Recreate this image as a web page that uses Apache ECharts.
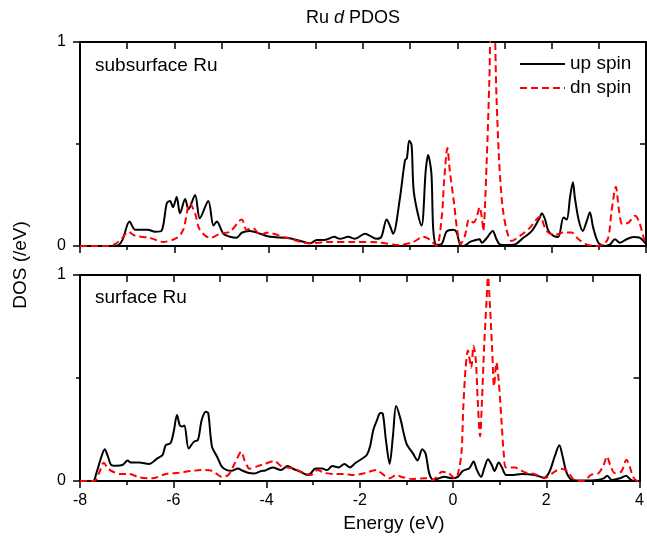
<!DOCTYPE html>
<html><head><meta charset="utf-8">
<script src="https://cdn.jsdelivr.net/npm/echarts@6/dist/echarts.min.js"></script>
<style>html,body{margin:0;padding:0;background:#fff}#c{width:647px;height:537px}</style>
</head><body><div id="c"></div>
<script>
const xTicks = [-8, -6, -4, -2, 0, 2, 4];
const yTicks = [0, 1];
const seriesNames = ['up spin', 'dn spin'];
const panelNames = ['subsurface Ru', 'surface Ru'];

const subUp = [[-8,0],[-7.5,0],[-7.2,0.003],[-7.1,0.03],[-6.95,0.12],[-6.83,0.08],[-6.56,0.08],[-6.41,0.07],[-6.27,0.075],[-6.16,0.21],[-6.09,0.22],[-6.03,0.19],[-5.95,0.24],[-5.88,0.16],[-5.77,0.23],[-5.70,0.18],[-5.56,0.25],[-5.46,0.136],[-5.28,0.22],[-5.17,0.10],[-5.10,0.12],[-4.96,0.06],[-4.82,0.045],[-4.68,0.04],[-4.57,0.065],[-4.40,0.073],[-4.18,0.06],[-3.97,0.045],[-3.62,0.04],[-3.34,0.026],[-3.12,0.013],[-2.98,0.03],[-2.81,0.03],[-2.61,0.045],[-2.49,0.035],[-2.31,0.045],[-2.17,0.035],[-1.96,0.06],[-1.85,0.05],[-1.71,0.035],[-1.61,0.045],[-1.50,0.13],[-1.43,0.10],[-1.36,0.06],[-1.22,0.23],[-1.11,0.42],[-1.07,0.43],[-1.02,0.516],[-0.97,0.495],[-0.92,0.26],[-0.76,0.10],[-0.67,0.37],[-0.62,0.446],[-0.55,0.356],[-0.51,0.08],[-0.44,0.005],[-0.33,0.01],[-0.23,0.07],[-0.09,0.08],[-0.02,0.07],[0.06,0.005],[0.13,0],[0.27,0.02],[0.37,0.028],[0.47,0.033],[0.52,0.016],[0.62,0.038],[0.75,0.074],[0.83,0.033],[0.90,0.008],[1.05,0.005],[1.22,0.008],[1.40,0.04],[1.58,0.074],[1.75,0.14],[1.79,0.16],[1.86,0.13],[1.93,0.074],[2.04,0.05],[2.14,0.044],[2.25,0.14],[2.32,0.13],[2.39,0.24],[2.45,0.313],[2.49,0.24],[2.57,0.13],[2.66,0.074],[2.74,0.12],[2.81,0.165],[2.88,0.09],[2.99,0.016],[3.13,0],[3.24,0.008],[3.34,0.033],[3.45,0.016],[3.59,0.033],[3.73,0.044],[3.87,0.04],[4,0.01]];

const subDn = [[-8,0],[-7.4,0],[-7.25,0.01],[-7.1,0.04],[-6.98,0.07],[-6.83,0.05],[-6.52,0.04],[-6.24,0.02],[-5.95,0.04],[-5.81,0.08],[-5.67,0.21],[-5.56,0.16],[-5.46,0.08],[-5.24,0.04],[-5.03,0.06],[-4.82,0.07],[-4.57,0.13],[-4.47,0.08],[-4.33,0.087],[-4.18,0.055],[-4.04,0.065],[-3.62,0.04],[-3.12,0.013],[-2.77,0.02],[-2.21,0.02],[-1.71,0.018],[-1.22,0.005],[-0.93,0.02],[-0.72,0.045],[-0.58,0.03],[-0.44,0],[-0.33,0.144],[-0.28,0.32],[-0.21,0.48],[-0.16,0.37],[-0.07,0.21],[0,0.074],[0.07,0.01],[0.16,0.05],[0.25,0.13],[0.34,0.115],[0.41,0.14],[0.47,0.19],[0.52,0.14],[0.55,0.074],[0.62,0.40],[0.68,0.82],[0.72,1.15],[0.77,1.15],[0.83,0.73],[0.89,0.40],[0.96,0.19],[1.05,0.074],[1.15,0.025],[1.33,0.05],[1.54,0.09],[1.75,0.143],[1.89,0.074],[2.07,0.054],[2.25,0.066],[2.42,0.066],[2.57,0.033],[2.74,0.008],[2.95,0],[3.1,0.008],[3.2,0.04],[3.27,0.17],[3.36,0.29],[3.43,0.17],[3.5,0.107],[3.63,0.115],[3.77,0.148],[3.86,0.115],[3.96,0.033],[4,0.02]];

const surfUp = [[-8,0],[-7.72,0],[-7.65,0.037],[-7.54,0.118],[-7.47,0.154],[-7.40,0.118],[-7.33,0.078],[-7.22,0.074],[-7.08,0.079],[-6.98,0.099],[-6.91,0.09],[-6.73,0.09],[-6.52,0.083],[-6.34,0.11],[-6.23,0.126],[-6.16,0.175],[-6.06,0.183],[-5.99,0.24],[-5.92,0.32],[-5.86,0.27],[-5.81,0.264],[-5.76,0.27],[-5.67,0.158],[-5.56,0.19],[-5.47,0.2],[-5.39,0.296],[-5.30,0.336],[-5.25,0.33],[-5.17,0.167],[-5.06,0.118],[-4.96,0.07],[-4.85,0.053],[-4.75,0.05],[-4.61,0.061],[-4.54,0.053],[-4.40,0.04],[-4.26,0.037],[-4.11,0.049],[-4.04,0.05],[-3.87,0.066],[-3.69,0.053],[-3.55,0.073],[-3.41,0.057],[-3.27,0.045],[-3.12,0.029],[-3.05,0.037],[-2.95,0.061],[-2.81,0.061],[-2.70,0.053],[-2.59,0.073],[-2.45,0.066],[-2.33,0.083],[-2.21,0.066],[-2.10,0.086],[-1.96,0.107],[-1.85,0.126],[-1.78,0.167],[-1.71,0.248],[-1.63,0.296],[-1.56,0.33],[-1.51,0.328],[-1.44,0.2],[-1.36,0.083],[-1.29,0.215],[-1.22,0.364],[-1.13,0.304],[-1.0,0.183],[-0.86,0.134],[-0.76,0.10],[-0.66,0.154],[-0.59,0.134],[-0.51,0.037],[-0.42,0.005],[-0.30,0.013],[-0.19,0.021],[-0.02,0.013],[0.1,0.02],[0.21,0.049],[0.35,0.062],[0.44,0.095],[0.51,0.054],[0.60,0.02],[0.67,0.062],[0.75,0.106],[0.83,0.078],[0.89,0.049],[0.98,0.09],[1.05,0.065],[1.14,0.029],[1.26,0.029],[1.47,0.034],[1.75,0.029],[1.96,0.016],[2.07,0.046],[2.18,0.119],[2.28,0.173],[2.35,0.119],[2.44,0.038],[2.56,0.005],[2.81,0.002],[3.09,0.005],[3.23,0.013],[3.31,0.026],[3.40,0.005],[3.58,0.013],[3.71,0.026],[3.79,0.01],[3.89,0],[4,0]];

const surfDn = [[-8,0],[-7.69,0],[-7.58,0.045],[-7.49,0.089],[-7.40,0.06],[-7.29,0.045],[-7.15,0.034],[-6.94,0.034],[-6.73,0.018],[-6.45,0.013],[-6.16,0.034],[-5.88,0.04],[-5.60,0.049],[-5.39,0.053],[-5.17,0.05],[-4.96,0.021],[-4.82,0.029],[-4.68,0.086],[-4.54,0.142],[-4.47,0.10],[-4.36,0.06],[-4.22,0.07],[-4.08,0.08],[-3.83,0.097],[-3.69,0.073],[-3.55,0.066],[-3.41,0.061],[-3.19,0.037],[-3.05,0.029],[-2.91,0.053],[-2.77,0.04],[-2.56,0.034],[-2.35,0.034],[-2.14,0.029],[-1.92,0.037],[-1.64,0.053],[-1.53,0.037],[-1.36,0.013],[-1.22,0.029],[-1.08,0.018],[-0.86,0.01],[-0.58,0.013],[-0.44,0.005],[-0.23,0.045],[-0.09,0.037],[0.04,0.013],[0.1,0.03],[0.18,0.135],[0.22,0.356],[0.27,0.55],[0.32,0.633],[0.39,0.55],[0.44,0.657],[0.49,0.584],[0.53,0.388],[0.58,0.217],[0.62,0.388],[0.67,0.666],[0.72,0.88],[0.75,0.99],[0.79,0.86],[0.84,0.633],[0.88,0.46],[0.93,0.576],[0.98,0.486],[1.04,0.29],[1.09,0.127],[1.14,0.065],[1.33,0.065],[1.54,0.042],[1.75,0.033],[1.96,0.013],[2.18,0.046],[2.32,0.059],[2.46,0.046],[2.6,0.005],[2.81,0],[2.95,0.029],[3.12,0.038],[3.23,0.078],[3.30,0.119],[3.37,0.078],[3.47,0.038],[3.61,0.046],[3.72,0.103],[3.79,0.07],[3.86,0.02],[3.96,0],[4,0]];

const FONT = "'Liberation Sans', Arial, sans-serif";
const BLACK = '#000';
const RED = '#ff0000';
const DASH = [7, 4];
const chart = echarts.init(document.getElementById('c'), null, {renderer: 'canvas'});

function xAx(grid, pos, labels) {
  const inside = pos === 'top';
  return {
    type: 'value', gridIndex: grid, position: pos, min: xTicks[0], max: xTicks[xTicks.length - 1], interval: 2,
    axisLine: {show: true, onZero: false, lineStyle: {color: BLACK, width: 2}},
    axisTick: {show: true, inside: inside, length: 7, lineStyle: {color: BLACK, width: 1.5}},
    minorTick: {show: true, splitNumber: 2, length: inside ? 7 : 4, lineStyle: {color: BLACK, width: 1.5}},
    axisLabel: {show: labels, margin: 12, fontSize: 16, color: BLACK, fontFamily: FONT,
      formatter: v => xTicks.indexOf(v) >= 0 ? String(v) : ''},
    splitLine: {show: false}, minorSplitLine: {show: false}
  };
}
function yAx(grid, pos) {
  const inside = pos === 'right';
  return {
    type: 'value', gridIndex: grid, position: pos, min: yTicks[0], max: yTicks[1], interval: 1,
    axisLine: {show: true, onZero: false, lineStyle: {color: BLACK, width: 2}},
    axisTick: {show: true, inside: inside, length: 7, lineStyle: {color: BLACK, width: 1.5}},
    minorTick: {show: true, splitNumber: 2, length: inside ? 6 : 4, lineStyle: {color: BLACK, width: 1.5}},
    axisLabel: {show: !inside, margin: 14, fontSize: 16, color: BLACK, fontFamily: FONT,
      formatter: v => yTicks.indexOf(v) >= 0 ? String(v) : ''},
    splitLine: {show: false}, minorSplitLine: {show: false}
  };
}
function line(name, data, xi, yi, dn) {
  return {
    name: name, type: 'line', data: data, xAxisIndex: xi, yAxisIndex: yi,
    symbol: 'none', smooth: 0.3, clip: true,
    lineStyle: dn ? {color: RED, width: 2, type: DASH} : {color: BLACK, width: 2},
    itemStyle: {color: dn ? RED : BLACK},
    z: dn ? 3 : 2
  };
}
function txt(x, y, s, size, align, rot) {
  return {type: 'text', x: x, y: y, rotation: rot || 0,
    style: {text: s, fontSize: size, fontFamily: FONT, fill: BLACK, align: align, verticalAlign: 'middle'}};
}

chart.setOption({
  animation: false,
  backgroundColor: '#fff',
  grid: [
    {left: 80, top: 42, width: 566, height: 204},
    {left: 80, top: 275, width: 566, height: 206}
  ],
  xAxis: [xAx(0, 'bottom', false), xAx(0, 'top', false), xAx(1, 'bottom', true), xAx(1, 'top', false)],
  yAxis: [yAx(0, 'left'), yAx(0, 'right'), yAx(1, 'left'), yAx(1, 'right')],
  series: [
    line(seriesNames[0], subUp, 0, 0, false),
    line(seriesNames[1], subDn, 0, 0, true),
    line(seriesNames[0], surfUp, 2, 2, false),
    line(seriesNames[1], surfDn, 2, 2, true)
  ],
  graphic: [
    {type: 'text', x: 353, y: 18, style: {text: '{a|Ru }{b|d}{a| PDOS}', align: 'center', verticalAlign: 'middle',
      rich: {a: {fontSize: 18, fontFamily: FONT, fill: BLACK}, b: {fontSize: 18, fontFamily: FONT, fontStyle: 'italic', fill: BLACK}}}},
    txt(95, 66, panelNames[0], 19, 'left'),
    txt(95, 298, panelNames[1], 19, 'left'),
    txt(394, 524, 'Energy (eV)', 19, 'center'),
    txt(21, 265, 'DOS (/eV)', 19, 'center', Math.PI / 2),
    {type: 'line', shape: {x1: 520, y1: 64, x2: 565, y2: 64}, style: {stroke: BLACK, lineWidth: 2}},
    {type: 'line', shape: {x1: 520, y1: 88, x2: 565, y2: 88}, style: {stroke: RED, lineWidth: 2, lineDash: DASH}},
    txt(570, 64, seriesNames[0], 19, 'left'),
    txt(570, 88, seriesNames[1], 19, 'left')
  ]
});
</script></body></html>
